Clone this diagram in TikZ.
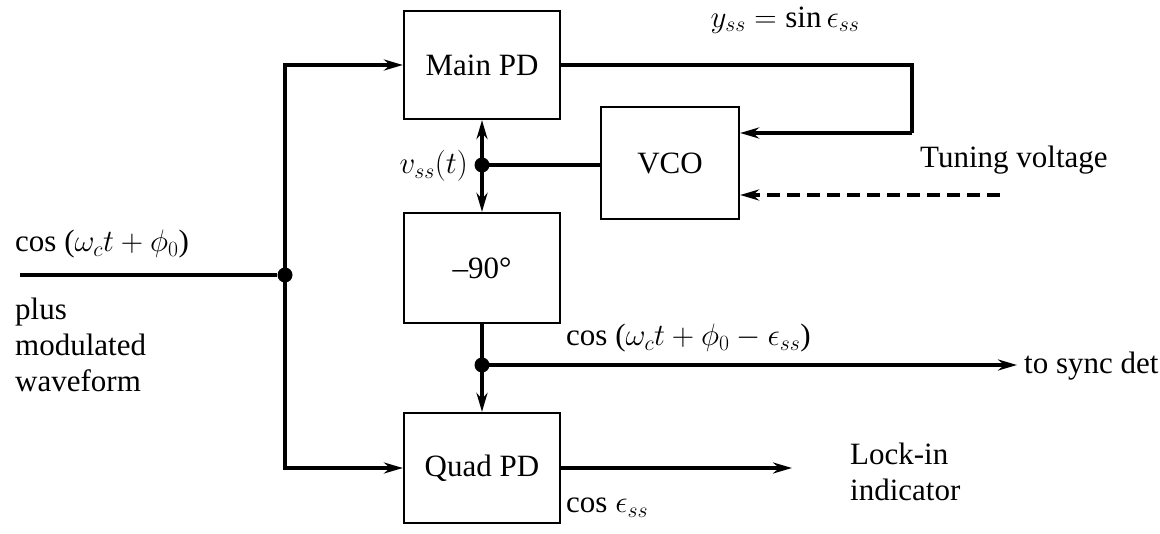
\RequirePackage{fix-cm}
\documentclass[tikz,border=0pt]{standalone}
\usepackage{fontspec}
\setmainfont{Liberation Serif}
\usetikzlibrary{arrows.meta}
\begin{document}
\begin{tikzpicture}[x=1pt,y=-1pt,
  box/.style={draw,line width=2.2pt,inner sep=0pt},
  wire/.style={line width=3.4pt},
  arr/.style={wire,-{Stealth[length=19pt,width=11pt]}},
  dot/.style={circle,fill,inner sep=0pt,minimum size=15pt},
  lbl/.style={inner sep=0pt,font=\fontsize{31}{36}\selectfont}]
\useasboundingbox (0,0) rectangle (1160,534);
\fontsize{31}{36}\selectfont
\node[box,lbl,minimum width=156pt,minimum height=108pt] (main) at (482,65) {Main PD};
\node[box,lbl,minimum width=138pt,minimum height=112pt] (vco) at (670,163) {VCO};
\node[box,lbl,minimum width=156pt,minimum height=110pt] (ph) at (482,268) {–90°};
\node[box,lbl,minimum width=156pt,minimum height=110pt] (quad) at (482,468) {Quad PD};
\node[dot] (j1) at (482,165) {};
\node[dot] (j2) at (285,275) {};
\node[dot] (j3) at (482,365) {};
\coordinate (in) at (20,275);
\coordinate (c1) at (912,65);
\coordinate (c2) at (912,133);
\coordinate (tv) at (1000,195);
\coordinate (sd) at (1017,365);
\coordinate (li) at (792,468);
% connectors
\draw[wire] (in) -- (j2);
\draw[arr] (j2.center) |- (main.west);
\draw[arr] (j2.center) |- (quad.west);
\draw[arr] (j1.center) -- (main.south);
\draw[arr] (j1.center) -- (ph.north);
\draw[wire] (j1.center) -- (vco.west |- j1);
\draw[wire] (main.east) -- (c1) -- (c2);
\draw[arr] (c2) -- (vco.east |- c2);
\draw[arr,dash pattern=on 13pt off 7pt] (tv) -- (vco.east |- tv);
\draw[wire] (ph.south) -- (j3.center);
\draw[arr] (j3.center) -- (quad.north);
\draw[arr] (j3.center) -- (sd);
\draw[arr] (quad.east) -- (li);
% labels
\node[lbl] (ly) at (785,20) {$y_{ss} = \sin\epsilon_{ss}$};
\node[lbl,anchor=west] (ltv) at (920,160) {Tuning voltage};
\node[lbl,anchor=east] (lv) at (468,166) {$v_{ss}(t)$};
\node[lbl,anchor=west] (lc2) at (566,338) {cos ($\omega_c t + \phi_0 - \epsilon_{ss}$)};
\node[lbl,anchor=west] (lsd) at (1024,366) {to sync det};
\node[lbl,anchor=west,align=left] (lli) at (850,472) {Lock-in\\indicator};
\node[lbl,anchor=west] (lce) at (566,508) {cos $\epsilon_{ss}$};
\node[lbl,anchor=west] (lin) at (15,244) {cos ($\omega_c t + \phi_0$)};
\node[lbl,anchor=west,align=left] (lpm) at (15,345) {plus\\modulated\\waveform};
\end{tikzpicture}
\end{document}
